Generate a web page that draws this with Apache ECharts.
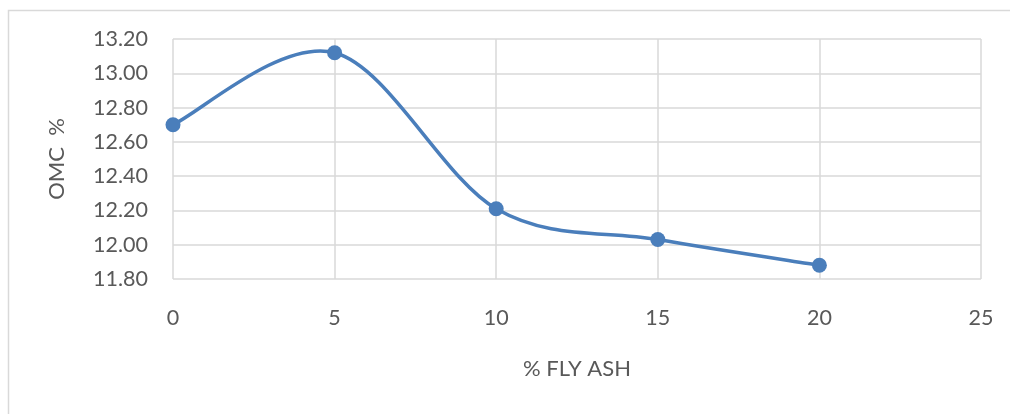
<!DOCTYPE html>
<html>
<head>
<meta charset="utf-8">
<script src="https://cdn.jsdelivr.net/npm/echarts@6/dist/echarts.min.js"></script>
<style>
html,body{margin:0;padding:0;background:#fff;}
#chart{width:1010px;height:414px;}
</style>
</head>
<body>
<div id="chart"></div>
<script>
const flyAsh = [0, 5, 10, 15, 20];
const omc = [12.70, 13.12, 12.21, 12.03, 11.88];
const xTitle = '% FLY ASH';
const yTitle = 'OMC  %';

const chart = echarts.init(document.getElementById('chart'));
const font = 'Lato, "Open Sans", sans-serif';
const lineColor = '#4a7ebb';
const points = flyAsh.map((x, i) => [x, omc[i]]);

function renderSegment(params, api) {
  const i = params.dataIndex;
  if (i >= points.length - 1) return null;
  const P = points.map(p => api.coord(p));
  const p0 = P[Math.max(i - 1, 0)];
  const p1 = P[i];
  const p2 = P[i + 1];
  const p3 = P[Math.min(i + 2, P.length - 1)];
  return {
    type: 'bezierCurve',
    shape: {
      x1: p1[0], y1: p1[1], x2: p2[0], y2: p2[1],
      cpx1: p1[0] + (p2[0] - p0[0]) / 6, cpy1: p1[1] + (p2[1] - p0[1]) / 6,
      cpx2: p2[0] - (p3[0] - p1[0]) / 6, cpy2: p2[1] - (p3[1] - p1[1]) / 6
    },
    style: {stroke: lineColor, lineWidth: 3.5, fill: null, lineCap: 'round'}
  };
}

chart.setOption({
  animation: false,
  graphic: [{
    type: 'rect',
    shape: {x: 8.5, y: 10.5, width: 1100, height: 500},
    style: {fill: null, stroke: '#d9d9d9', lineWidth: 1.5},
    silent: true
  }],
  grid: {left: 173, right: 29, top: 39, bottom: 135},
  xAxis: {
    type: 'value', min: 0, max: 25, interval: 5,
    name: xTitle, nameLocation: 'middle', nameGap: 79,
    nameTextStyle: {color: '#595959', fontSize: 22, fontFamily: font},
    axisLine: {show: false}, axisTick: {show: false},
    axisLabel: {color: '#595959', fontSize: 21.5, fontFamily: font, margin: 28},
    splitLine: {show: true, lineStyle: {color: '#d9d9d9', width: 1.5}}
  },
  yAxis: {
    type: 'value', min: 11.8, max: 13.2, interval: 0.2,
    name: yTitle, nameLocation: 'middle', nameGap: 105, nameRotate: 90,
    nameTextStyle: {color: '#595959', fontSize: 22, fontFamily: font},
    axisLine: {show: false}, axisTick: {show: false},
    axisLabel: {color: '#595959', fontSize: 21.5, fontFamily: font, margin: 25,
      formatter: v => v.toFixed(2)},
    splitLine: {show: true, lineStyle: {color: '#d9d9d9', width: 1.5}}
  },
  series: [{
    type: 'custom',
    data: points,
    renderItem: renderSegment,
    encode: {x: 0, y: 1},
    z: 2
  }, {
    type: 'scatter',
    data: points,
    symbol: 'circle', symbolSize: 15,
    itemStyle: {color: lineColor, opacity: 1},
    z: 3
  }]
});
</script>
</body>
</html>
